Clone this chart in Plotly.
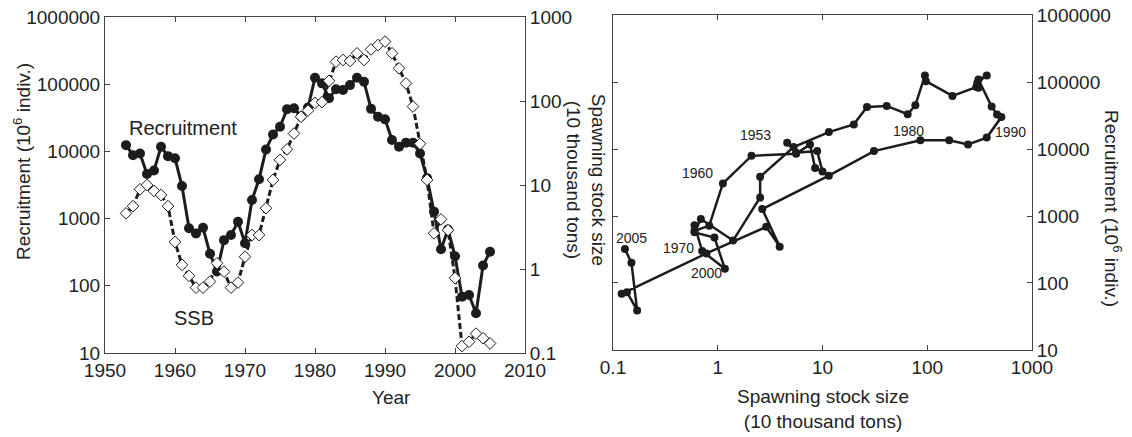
import plotly.graph_objects as go
import math

years = list(range(1953, 2006))
recruitment = [
    12400, 8800, 9300, 4600, 5200, 11700, 8500,            # 1953-1959
    7900, 3060, 718, 600, 730, 300, 163, 478, 570, 900,     # 1960-1969
    429, 1890, 3850, 10700, 17900, 23300, 42300, 44000, 33000, 45000,  # 1970-1979
    125000, 103000, 62000, 84000, 82000, 97000, 125000, 109000, 43000, 32800,  # 1980-1989
    30000, 14800, 11700, 13500, 13500, 9300, 4000, 1270, 349, 690,  # 1990-1999
    276, 69, 73, 39, 200, 321,                              # 2000-2005
]
ssb = [
    4.6, 5.6, 8.9, 10.0, 8.5, 7.6, 5.6,                     # 1953-1959
    2.1, 1.12, 0.83, 0.6, 0.6, 0.71, 1.17, 0.93, 0.6, 0.69, # 1960-1969
    1.4, 2.54, 2.54, 5.3, 11.5, 19.9, 26.6, 41, 65, 77,     # 1970-1979
    95, 97, 174, 294, 308, 300, 370, 308, 412, 464,         # 1980-1989
    510, 370, 245, 162, 86, 31, 11.5, 2.66, 3.9, 2.9,       # 1990-1999
    0.78, 0.121, 0.136, 0.17, 0.15, 0.13,                   # 2000-2005
]
year_ticks = [1950, 1960, 1970, 1980, 1990, 2000, 2010]
rec_ticks = [10, 100, 1000, 10000, 100000, 1000000]
rec_ticktext = ["10", "100", "1000", "10000", "100000", "1000000"]
ssb_ticks = [0.1, 1, 10, 100, 1000]
ssb_ticktext = ["0.1", "1", "10", "100", "1000"]
labeled_years = [1953, 1960, 1970, 1980, 1990, 2000, 2005]
label_shift = {1953: (-32, 8), 1960: (-54, -17), 1970: (-55, -7), 1980: (-16, -55),
               1990: (9, -15), 2000: (0, -20), 2005: (7, 11)}

FONT = "Liberation Sans, Arial, sans-serif"
INK = "#1c1c1c"
AX = "#444444"

fig = go.Figure()

# Left panel: time series
fig.add_trace(go.Scatter(
    x=years, y=ssb, xaxis="x", yaxis="y2", mode="lines+markers",
    line=dict(color=INK, width=3, dash="6px,3px"),
    marker=dict(symbol="diamond", size=9, color="white", line=dict(color=INK, width=1)),
    showlegend=False, name="SSB"))
fig.add_trace(go.Scatter(
    x=years, y=recruitment, xaxis="x", yaxis="y", mode="lines+markers",
    line=dict(color=INK, width=3),
    marker=dict(symbol="circle", size=10, color=INK),
    showlegend=False, name="Recruitment"))

# Right panel: stock-recruitment
fig.add_trace(go.Scatter(
    x=ssb, y=recruitment, xaxis="x2", yaxis="y3", mode="lines+markers",
    line=dict(color=INK, width=2.5),
    marker=dict(symbol="circle", size=8, color=INK),
    showlegend=False, name="SR"))

tickfont = dict(family=FONT, size=19, color="#222")
common = dict(showgrid=False, zeroline=False, showline=True, linecolor=AX, linewidth=1,
              ticks="inside", ticklen=5, tickcolor=AX, tickfont=tickfont,
              automargin=False, ticklabeloverflow="allow")

# page body has an 8px default margin: shrink the figure by that amount
fig.update_layout(
    width=1124, height=429,
    margin=dict(l=97, r=100, t=7, b=84),
    paper_bgcolor="white", plot_bgcolor="white",
    font=dict(family=FONT, color="#222"),
    xaxis=dict(domain=[0, 0.4531], range=[1950, 2010], tickvals=year_ticks,
               anchor="y", mirror="ticks", **common),
    yaxis=dict(domain=[0, 0.994], type="log", range=[1, 6], tickvals=rec_ticks,
               ticktext=rec_ticktext, anchor="x", **common),
    yaxis2=dict(type="log", range=[-1, 3], tickvals=ssb_ticks, ticktext=ssb_ticktext,
                overlaying="y", side="right", anchor="x", **common),
    xaxis2=dict(domain=[0.548, 1], type="log", range=[-1, 3], tickvals=ssb_ticks,
                ticktext=ssb_ticktext, anchor="y3", mirror="ticks", **common),
    yaxis3=dict(domain=[0.0089, 1], type="log", range=[1, 6], tickvals=rec_ticks,
                ticktext=rec_ticktext, side="right", anchor="x2", mirror="ticks", **common),
)

ann = []
titlefont = dict(family=FONT, size=19, color="#222")


def paper_text(text, x, y, angle=0, font=titlefont):
    return dict(text=text, xref="paper", yref="paper", x=x, y=y, textangle=angle,
                xanchor="center", yanchor="middle", showarrow=False, font=font)


ann.append(paper_text("Recruitment (10<sup>6</sup> indiv.)", -0.0895, 0.565, -90))
ann.append(paper_text("Spawning stock size<br>(10 thousand tons)", 0.519, 0.512, 90))
ann.append(paper_text("Year", 0.3096, -0.133))
ann.append(paper_text("Spawning stock size<br>(10 thousand tons)", 0.7745, -0.1657))
ann.append(paper_text("Recruitment (10<sup>6</sup> indiv.)", 1.0874, 0.429, 90))
ann.append(dict(text="Recruitment", xref="x", yref="y", x=1961.1, y=4.35,
                xanchor="center", yanchor="middle",
                showarrow=False, font=dict(family=FONT, size=20, color="#222")))
ann.append(dict(text="SSB", xref="x", yref="y", x=1962.7, y=1.52,
                xanchor="center", yanchor="middle",
                showarrow=False, font=dict(family=FONT, size=20, color="#222")))
for yr in labeled_years:
    i = years.index(yr)
    dx, dy = label_shift[yr]
    ann.append(dict(text=str(yr), xref="x2", yref="y3",
                    x=math.log10(ssb[i]), y=math.log10(recruitment[i]),
                    xanchor="center", yanchor="middle",
                    xshift=dx, yshift=dy, showarrow=False,
                    font=dict(family=FONT, size=14, color="#222")))
fig.update_layout(annotations=ann)

fig.write_html("out.html")
